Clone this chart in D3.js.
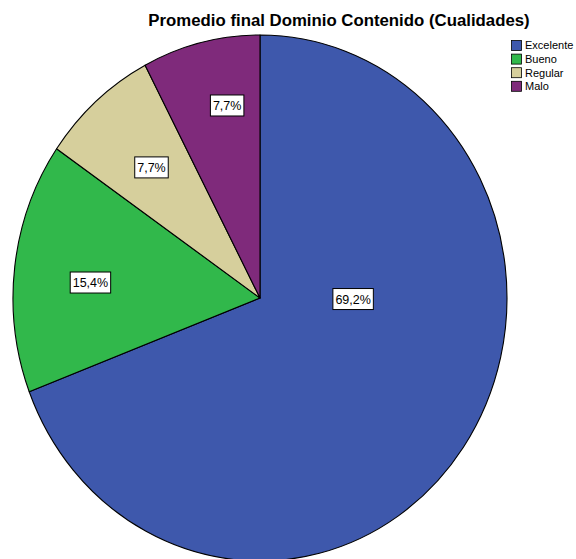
<!DOCTYPE html>
<html>
<head>
<meta charset="utf-8">
<script src="https://cdn.jsdelivr.net/npm/d3@7/dist/d3.min.js"></script>
<style>
  html, body { margin: 0; padding: 0; background: #fff; }
  svg { display: block; font-family: "Liberation Sans", Arial, sans-serif; }
</style>
</head>
<body>
<svg id="chart" width="576" height="559"></svg>
<script>
// Category data
const categories = ["Excelente", "Bueno", "Regular", "Malo"];
const percents = [69.2, 15.4, 7.7, 7.7];
const colors = ["#3e58ac", "#31b84b", "#d6cf9c", "#7f2a7b"];
const chartTitle = "Promedio final Dominio Contenido (Cualidades)";

// Label placement (polar: degrees clockwise from 12 o'clock, fraction of radius)
const labelAngles = [90.6, 274.9, 318.5, 349.7];
const labelRadii = [0.377, 0.689, 0.663, 0.744];

const svg = d3.select("#chart");
const cx = 260, cy = 298;
const rx = 247, ry = 263;          // pie is drawn slightly stretched vertically
const yScale = ry / rx;

const data = categories.map((c, i) => ({ cat: c, value: percents[i], color: colors[i] }));

const pie = d3.pie().sort(null).value(d => d.value);
const arc = d3.arc().innerRadius(0).outerRadius(rx);

const g = svg.append("g")
  .attr("transform", `translate(${cx},${cy}) scale(1,${yScale})`);

g.selectAll("path.slice")
  .data(pie(data))
  .join("path")
  .attr("class", "slice")
  .attr("d", arc)
  .attr("fill", d => d.data.color)
  .attr("stroke", "#000")
  .attr("stroke-width", 1.1)
  .attr("stroke-linejoin", "round")
  .attr("vector-effect", "non-scaling-stroke");

// Value labels in white boxes
const fmt = v => d3.format(".1f")(v).replace(".", ",") + "%";
const labels = svg.append("g");
data.forEach((d, i) => {
  const a = labelAngles[i] * Math.PI / 180;
  const r = labelRadii[i] * rx;
  const x = cx + r * Math.sin(a);
  const y = cy - r * Math.cos(a) * yScale;
  const lg = labels.append("g").attr("transform", `translate(${x},${y})`);
  const rect = lg.append("rect").attr("fill", "#fff").attr("stroke", "#000").attr("stroke-width", 1);
  const t = lg.append("text")
    .attr("text-anchor", "middle")
    .attr("dy", "0.36em")
    .attr("font-size", 12.5)
    .attr("fill", "#000")
    .text(fmt(d.value));
  const bb = t.node().getBBox();
  const bw = bb.width + 5, bh = 21;
  rect.attr("x", -bw / 2).attr("y", -bh / 2).attr("width", bw).attr("height", bh);
});

// Title
svg.append("text")
  .attr("x", 339)
  .attr("y", 26)
  .attr("text-anchor", "middle")
  .attr("font-size", 16.8)
  .attr("font-weight", "bold")
  .attr("fill", "#000")
  .text(chartTitle);

// Legend
const legend = svg.append("g").attr("transform", "translate(511,40)");
const rowH = 13.6;
const rows = legend.selectAll("g.row")
  .data(data)
  .join("g")
  .attr("class", "row")
  .attr("transform", (d, i) => `translate(0,${i * rowH})`);
rows.append("rect")
  .attr("x", 0.5).attr("y", 0.5)
  .attr("width", 10).attr("height", 10)
  .attr("fill", d => d.color)
  .attr("stroke", "#000")
  .attr("stroke-width", 0.8);
rows.append("text")
  .attr("x", 14)
  .attr("y", 5.5)
  .attr("dy", "0.36em")
  .attr("font-size", 11)
  .attr("fill", "#000")
  .text(d => d.cat);
</script>
</body>
</html>
